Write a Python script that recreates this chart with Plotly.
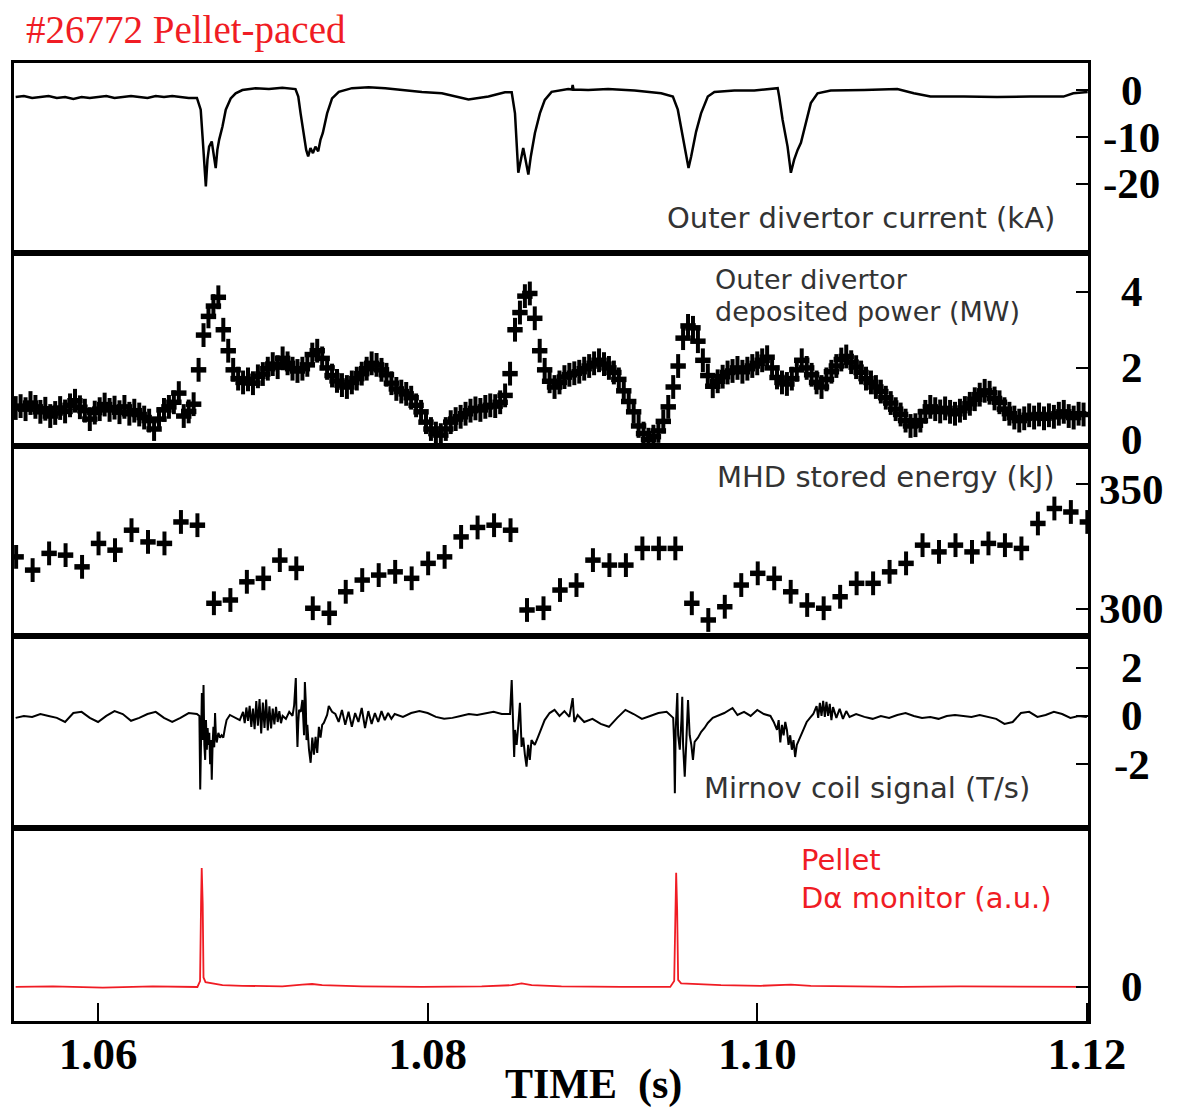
import plotly.graph_objects as go

# Shot #26772, pellet-paced ELMs: five diagnostics on a common time base (s)

# Outer divertor current (kA)
T_DIV = [
    1.0550, 1.0555, 1.0560, 1.0565, 1.0570, 1.0575, 1.0580, 1.0585, 1.0590, 1.0595,
    1.0600, 1.0605, 1.0610, 1.0615, 1.0620, 1.0625, 1.0630, 1.0635, 1.0640, 1.0645,
    1.0650, 1.0655, 1.0660,
    1.06623, 1.06634, 1.06644, 1.06654, 1.06664, 1.06674, 1.06690, 1.06705, 1.06714, 1.06724,
    1.06735, 1.06755, 1.06775, 1.06805, 1.06835, 1.06876, 1.06956, 1.07037, 1.07118, 1.07198,
    1.07215, 1.07229, 1.07249, 1.07263, 1.07275, 1.07289, 1.07304, 1.07319, 1.07336, 1.07350,
    1.07364, 1.07390, 1.07420, 1.07461, 1.07541, 1.07642, 1.07743, 1.07844, 1.07965, 1.08086,
    1.08248, 1.08369, 1.08469, 1.08510,
    1.08530, 1.08550, 1.08566, 1.08580, 1.08594, 1.08611, 1.08626, 1.08651, 1.08681, 1.08711,
    1.08752, 1.08853, 1.08875, 1.08880, 1.08885, 1.08974, 1.09095, 1.09256, 1.09417, 1.09488,
    1.09518, 1.09549, 1.09569, 1.09583, 1.09599, 1.09619, 1.09629, 1.09659, 1.09700, 1.09740,
    1.09861, 1.09982, 1.10063, 1.10124,
    1.10133, 1.10154, 1.10184, 1.10204, 1.10224, 1.10245, 1.10265, 1.10295, 1.10325, 1.10366,
    1.10446, 1.10648, 1.10850, 1.10950, 1.11051, 1.11253, 1.11455, 1.11656, 1.11858, 1.11918,
    1.11979, 1.12005,
]
DIV_KA = [
    -1.4, -1.2, -1.6, -1.4, -1.2, -1.6, -1.4, -1.8, -1.4, -1.6,
    -1.4, -1.2, -1.6, -1.4, -1.2, -1.4, -1.6, -1.2, -1.4, -1.2,
    -1.4, -1.6, -1.6,
    -4.1, -9.8, -14.8, -20.5, -14.8, -12.0, -10.9, -14.8, -16.6, -12.7,
    -10.5, -7.7, -4.1, -1.7, -0.6, 0.1, 0.5, 0.3, 0.6, 0.3,
    -1.3, -4.9, -9.1, -12.7, -14.1, -12.3, -13.4, -12.0, -13.0, -10.5,
    -9.1, -4.9, -1.7, -0.3, 0.5, 0.7, 0.5, 0.1, -0.3, -0.6,
    -1.9, -1.3, -0.4, -0.4,
    -4.9, -17.6, -14.8, -12.3, -14.8, -18.0, -14.1, -9.1, -4.9, -2.0,
    -0.3, 0.3, 0.2, 1.2, 0.2, 0.1, 0.3, 0.0, -0.6, -1.3,
    -4.1, -9.8, -14.1, -16.6, -14.1, -10.5, -8.8, -4.9, -1.3, -0.3,
    0.0, 0.0, 0.3, 0.5,
    -1.3, -6.3, -12.0, -17.6, -14.8, -12.7, -11.2, -7.0, -2.7, -0.6,
    0.0, 0.1, 0.3, -0.6, -1.3, -1.3, -1.4, -1.3, -1.3, -0.6,
    -0.3, -0.3,
]

# Outer divertor deposited power (MW), one sample every 0.3 ms
POWER_T0 = 1.0550
POWER_DT = 0.0003
POWER_MW = [
    0.95, 1.0, 0.92, 1.08, 0.98, 0.85, 0.93, 0.74, 0.82, 0.95,
    0.86, 1.02, 1.14, 0.97, 0.88, 0.66, 0.83, 0.92, 1.04, 0.9,
    0.96, 0.84, 0.98, 0.8, 0.88, 0.78, 0.7, 0.62, 0.4, 0.66,
    0.9, 0.98, 1.1, 1.34, 0.74, 0.86, 1.05, 1.95, 2.86, 3.35,
    3.62, 3.85, 3.0, 2.45, 1.95, 1.72, 1.62, 1.7, 1.6, 1.78,
    1.84, 1.98, 2.1, 2.02, 2.25, 2.12, 1.98, 1.92, 1.98, 2.08,
    2.35, 2.45, 2.25, 2.0, 1.8, 1.66, 1.55, 1.5, 1.62, 1.72,
    1.85, 1.98, 2.12, 2.08, 1.95, 1.82, 1.6, 1.45, 1.38, 1.32,
    1.22, 1.02, 0.85, 0.58, 0.4, 0.28, 0.24, 0.4, 0.58, 0.66,
    0.72, 0.8, 0.88, 0.94, 0.9, 0.98, 1.02, 1.0, 1.1, 1.28,
    1.85, 3.0, 3.45, 3.88, 3.95, 3.3, 2.45, 1.95, 1.65, 1.5,
    1.62, 1.76, 1.82, 1.86, 1.9, 1.98, 2.05, 2.12, 2.2, 2.1,
    2.0, 1.88, 1.7, 1.4, 1.12, 0.85, 0.48, 0.28, 0.12, 0.2,
    0.35, 0.6, 0.98, 1.5, 2.05, 2.78, 3.1, 3.05, 2.7, 2.2,
    1.8, 1.52, 1.65, 1.77, 1.88, 1.92, 2.0, 1.9, 1.98, 2.05,
    2.12, 2.2, 2.28, 2.0, 1.75, 1.62, 1.58, 1.72, 1.95, 2.2,
    2.0, 1.82, 1.62, 1.5, 1.7, 1.9, 2.05, 2.22, 2.3, 2.15,
    2.02, 1.88, 1.72, 1.62, 1.5, 1.38, 1.22, 1.08, 0.92, 0.78,
    0.62, 0.48, 0.5, 0.62, 0.85, 0.98, 0.92, 0.86, 0.94, 0.85,
    0.8, 0.88, 0.95, 1.06, 1.18, 1.3, 1.4, 1.35, 1.2, 1.1,
    0.92, 0.8, 0.7, 0.62, 0.68, 0.76, 0.7, 0.78, 0.68, 0.76,
    0.72, 0.8, 0.85, 0.74, 0.7, 0.8, 0.78,
]

# MHD stored energy (kJ), one sample every 1 ms
WMHD_T0 = 1.05503
WMHD_DT = 0.001
WMHD_KJ = [
    320.9, 315.6, 322.3, 321.6, 316.9, 326.3, 323.6, 331.6, 326.9, 326.3,
    334.9, 333.6, 302.3, 303.6, 310.9, 312.3, 319.6, 316.3, 300.3, 298.3,
    306.9, 311.6, 313.6, 314.9, 312.3, 318.3, 320.9, 328.9, 332.7, 333.6,
    331.6, 299.6, 300.3, 307.6, 309.6, 319.6, 317.6, 317.6, 324.3, 324.3,
    324.3, 302.3, 295.6, 300.9, 309.6, 314.3, 312.3, 306.9, 301.6, 300.3,
    304.9, 310.3, 310.3, 314.9, 318.3, 325.6, 322.9, 325.6, 322.9, 326.3,
    325.6, 324.3, 334.3, 340.3, 338.9, 334.9,
]

# Mirnov coil signal (T/s)
T_MIRNOV = [
    1.0550, 1.0555, 1.0560, 1.0565, 1.0570, 1.0575, 1.0580, 1.0585, 1.0590, 1.0595,
    1.0600, 1.0605, 1.0610, 1.0615, 1.0620, 1.0625, 1.0630, 1.0635, 1.0640, 1.0645,
    1.0650, 1.0655, 1.0660,
    1.06615, 1.06620, 1.06625, 1.06630, 1.06635, 1.06640, 1.06645, 1.06650, 1.06655, 1.06660,
    1.06665, 1.06670, 1.06675, 1.06680, 1.06685, 1.06690, 1.06695, 1.06700, 1.06705, 1.06710,
    1.06715, 1.06720, 1.06730, 1.06740, 1.06750, 1.06760, 1.06770, 1.06780, 1.06800, 1.06820,
    1.06840, 1.06860,
    1.06880, 1.06890, 1.06900, 1.06910, 1.06920, 1.06930, 1.06940, 1.06950, 1.06960, 1.06970,
    1.06980, 1.06990, 1.07000, 1.07010, 1.07020, 1.07030, 1.07040, 1.07050, 1.07060, 1.07070,
    1.07080, 1.07090, 1.07100, 1.07110, 1.07120, 1.07140, 1.07160, 1.07180,
    1.07190, 1.07200, 1.07205, 1.07210, 1.07215, 1.07220, 1.07230, 1.07240, 1.07250, 1.07255,
    1.07260, 1.07265, 1.07270, 1.07280, 1.07290, 1.07300, 1.07310, 1.07320, 1.07330, 1.07340,
    1.07350, 1.07360, 1.07370, 1.07390, 1.07400, 1.07420, 1.07440,
    1.07460, 1.07480, 1.07500, 1.07520, 1.07540, 1.07560, 1.07580, 1.07600, 1.07620, 1.07640,
    1.07660, 1.07680, 1.07700, 1.07720, 1.07740, 1.07760, 1.07780, 1.07800,
    1.07850, 1.07900, 1.07950, 1.08000, 1.08050, 1.08100, 1.08150, 1.08200, 1.08250, 1.08300,
    1.08350, 1.08400, 1.08450, 1.08500,
    1.08510, 1.08515, 1.08520, 1.08525, 1.08530, 1.08540, 1.08550, 1.08560, 1.08570, 1.08580,
    1.08590, 1.08600, 1.08610, 1.08620, 1.08630, 1.08650, 1.08670, 1.08690, 1.08710, 1.08740,
    1.08770, 1.08800, 1.08830, 1.08860, 1.08880, 1.08890, 1.08910, 1.08950, 1.09000, 1.09050,
    1.09100, 1.09150, 1.09200, 1.09250, 1.09300, 1.09350, 1.09400, 1.09450, 1.09480,
    1.09490, 1.09495, 1.09500, 1.09505, 1.09510, 1.09515, 1.09520, 1.09530, 1.09540, 1.09545,
    1.09550, 1.09560, 1.09570, 1.09580, 1.09590, 1.09600, 1.09610, 1.09620, 1.09640, 1.09660,
    1.09680, 1.09700, 1.09730, 1.09760, 1.09800, 1.09850, 1.09880, 1.09920, 1.09960, 1.10000,
    1.10040, 1.10080,
    1.10100, 1.10120, 1.10130, 1.10140, 1.10150, 1.10160, 1.10170, 1.10180, 1.10190, 1.10200,
    1.10210, 1.10220, 1.10230, 1.10240, 1.10260, 1.10280, 1.10300, 1.10320, 1.10340,
    1.10360, 1.10370, 1.10380, 1.10390, 1.10400, 1.10410, 1.10420, 1.10430, 1.10440, 1.10450,
    1.10460, 1.10480, 1.10500, 1.10520, 1.10540, 1.10560,
    1.10600, 1.10650, 1.10700, 1.10750, 1.10800, 1.10850, 1.10900, 1.10950, 1.11000, 1.11050,
    1.11100, 1.11150, 1.11200, 1.11250, 1.11300, 1.11350, 1.11400, 1.11450, 1.11500, 1.11550,
    1.11600, 1.11650, 1.11700, 1.11750, 1.11800, 1.11850, 1.11900, 1.11950, 1.12000,
]
MIRNOV_TS = [
    -0.08, 0.0, -0.04, 0.08, 0.0, -0.08, -0.25, 0.12, 0.17, -0.08,
    -0.25, 0.0, 0.2, 0.08, -0.2, -0.08, 0.08, 0.17, -0.08, -0.25,
    -0.08, 0.12, 0.08,
    0.0, -3.05, -0.4, 0.95, -1.0, 1.28, -1.2, -1.82, -0.17, -1.4,
    -0.5, -1.2, -0.7, -2.0, -1.0, -2.64, -1.2, -0.45, -1.3, 0.12,
    -0.8, -1.1, -0.7, -0.9, -0.8, -0.9, -0.5, -0.17, 0.04, -0.04,
    -0.12, -0.17,
    0.17, -0.3, 0.35, -0.2, 0.42, -0.45, 0.3, -0.55, 0.62, -0.4,
    0.7, -0.72, 0.55, -0.5, 0.68, -0.6, 0.4, -0.52, 0.3, -0.35,
    0.38, -0.25, 0.2, -0.3, 0.0, -0.12, 0.17, 0.0,
    0.45, 1.57, -0.17, -1.28, -0.25, 0.25, 0.17, 0.66, -0.8, 1.4,
    0.66, -1.0, -0.37, -1.4, -1.94, -0.9, -1.6, -0.87, -1.53, -0.45,
    -0.9, -0.37, -0.29, 0.04, 0.41, 0.17, 0.08,
    -0.25, 0.25, -0.37, 0.17, -0.45, 0.12, -0.25, 0.33, -0.5, 0.2,
    -0.33, 0.12, -0.25, 0.2, -0.17, 0.12, -0.12, 0.08,
    -0.04, 0.12, 0.2, 0.12, -0.04, -0.12, -0.08, 0.0, 0.08, 0.04,
    0.12, 0.17, 0.08, 0.08,
    1.49, 0.66, -0.8, -1.7, -0.58, -1.2, -0.37, 0.54, -1.28, -0.9,
    -1.6, -2.1, -1.2, -1.82, -1.0, -1.2, -0.87, -0.5, -0.17, 0.12,
    0.25, 0.0, 0.2, -0.04, 0.74, -0.25, 0.04, -0.25, -0.12, -0.33,
    -0.45, -0.08, 0.25, 0.08, -0.12, 0.0, 0.12, 0.17, 0.0,
    -0.08, -1.0, -3.2, -0.58, 0.66, 0.95, -0.8, -1.4, -0.17, 0.79,
    -1.2, -2.52, -1.0, 0.66, -0.8, -1.2, -1.82, -1.07, -0.9, -0.66,
    -0.5, -0.29, -0.08, 0.0, 0.12, 0.33, 0.04, 0.17, 0.0, 0.25,
    0.08, 0.0,
    -0.25, -0.58, -0.17, -1.1, -0.37, -0.8, -0.25, -0.58, -1.2, -0.8,
    -1.4, -1.0, -1.7, -1.2, -0.87, -0.58, -0.25, -0.08, 0.08,
    0.41, -0.08, 0.54, 0.0, 0.62, -0.04, 0.58, 0.0, 0.5, -0.17,
    0.37, -0.08, 0.29, -0.12, 0.2, -0.04,
    0.08, -0.04, -0.12, 0.0, -0.08, 0.04, 0.12, 0.0, -0.08, -0.04,
    -0.12, 0.0, 0.04, 0.0, -0.04, 0.04, -0.04, -0.12, -0.33, -0.25,
    0.12, 0.17, -0.04, 0.04, 0.17, 0.08, -0.08, 0.0, -0.04,
]

# Pellet D-alpha monitor (a.u.)
T_DALPHA = [
    1.0550, 1.05726, 1.06029, 1.06331, 1.06603, 1.06619, 1.06625, 1.06629, 1.06635, 1.06640,
    1.06652, 1.06694, 1.06755, 1.06876, 1.07118, 1.07239, 1.07299, 1.07360, 1.07602, 1.07965,
    1.08328, 1.08510, 1.08570, 1.08631, 1.08812, 1.09175, 1.09472, 1.09496, 1.09502, 1.09508,
    1.09514, 1.09520, 1.09538, 1.09599, 1.09780, 1.10022, 1.10204, 1.10325, 1.10567, 1.10870,
    1.11233, 1.11596, 1.12005,
]
DALPHA_AU = [
    0.0, 0.005, -0.005, 0.005, 0.0, 0.05, 0.7, 1.0, 0.7, 0.08,
    0.04, 0.03, 0.015, 0.01, 0.005, 0.02, 0.025, 0.015, 0.005, 0.0,
    0.005, 0.015, 0.03, 0.015, 0.005, 0.0, 0.0, 0.05, 0.6, 0.96,
    0.65, 0.06, 0.03, 0.025, 0.015, 0.01, 0.02, 0.01, 0.005, 0.0,
    0.005, 0.0, 0.0,
]

TIME_TICKS = [1.06, 1.08, 1.10, 1.12]
TIME_TICK_TEXT = ["1.06", "1.08", "1.10", "1.12"]
PANEL_TICKS = [[0, -10, -20], [4, 2, 0], [350, 300], [2, 0, -2], [0]]

# ------------------------------------------------------------------
# Layout geometry (pixels) and styling
# ------------------------------------------------------------------
W, H = 1179, 1111
LEFT, RIGHT, TOP, BOTTOM = 11, 1088, 63, 1021
EDGES = [63, 253, 446, 636, 828, 1021]
X_RANGE = [1.05490, 1.12007]
Y_RANGES = [[-34.76, 5.88], [-0.045, 5.01], [289.17, 365.36], [-4.64, 3.31], [-0.286, 1.336]]

RED = "#f01c24"
LABEL_GREY = "#333333"
SERIF = "Liberation Serif"
SANS = "DejaVu Sans"


def px_x(p):
    return (p - LEFT) / (RIGHT - LEFT)


def px_y(p):
    return (BOTTOM - p) / (BOTTOM - TOP)


fig = go.Figure()


def ax(i, kind):
    return kind if i == 1 else f"{kind}{i}"


def plus_markers(t, v, i):
    # '+' glyphs: a tall vertical stroke crossed by a shorter, heavier bar
    common = dict(x=t, y=v, mode="markers", xaxis=ax(i, "x"), yaxis=ax(i, "y"),
                  showlegend=False, hoverinfo="skip")
    fig.add_trace(go.Scatter(**common, marker=dict(symbol="line-ns", size=17,
                                                   line=dict(width=4, color="black"))))
    fig.add_trace(go.Scatter(**common, marker=dict(symbol="line-ew", size=11,
                                                   line=dict(width=5.5, color="black"))))


t_power = [round(POWER_T0 + k * POWER_DT, 6) for k in range(len(POWER_MW))]
t_wmhd = [round(WMHD_T0 + k * WMHD_DT, 6) for k in range(len(WMHD_KJ))]

fig.add_trace(go.Scatter(x=T_DIV, y=DIV_KA, mode="lines", xaxis="x", yaxis="y",
                         line=dict(color="black", width=2.5), showlegend=False))
plus_markers(t_power, POWER_MW, 2)
plus_markers(t_wmhd, WMHD_KJ, 3)
fig.add_trace(go.Scatter(x=T_MIRNOV, y=MIRNOV_TS, mode="lines", xaxis="x4", yaxis="y4",
                         line=dict(color="black", width=2), showlegend=False))
fig.add_trace(go.Scatter(x=T_DALPHA, y=DALPHA_AU, mode="lines", xaxis="x5", yaxis="y5",
                         line=dict(color=RED, width=1.8), showlegend=False))

layout = dict(
    width=W, height=H,
    margin=dict(l=LEFT, r=W - RIGHT, t=TOP, b=H - BOTTOM, pad=0),
    paper_bgcolor="white", plot_bgcolor="white",
    showlegend=False,
)

tick_font = dict(family=SERIF, size=43, color="black", weight="bold")

# nudges that keep the stacked scale numbers at panel joins apart (pixels)
TICK_LABEL_SHIFT = {(2, 0): 5, (3, 350): -5}

annotations = []
for i in range(1, 6):
    top, bot = EDGES[i - 1], EDGES[i]
    xa = dict(
        domain=[0, 1], anchor=ax(i, "y"), range=X_RANGE,
        showline=True, mirror=True, linewidth=3, linecolor="black",
        showgrid=False, zeroline=False,
    )
    if i > 1:
        xa["matches"] = "x"
    if i == 5:
        xa.update(tickvals=TIME_TICKS, ticktext=TIME_TICK_TEXT, ticks="inside",
                  ticklen=18, tickwidth=1.6, tickcolor="black", showticklabels=True,
                  tickfont=dict(tick_font, size=45), ticklabelstandoff=-9)
    else:
        xa.update(ticks="", showticklabels=False)
    ya = dict(
        domain=[px_y(bot), px_y(top)], anchor=ax(i, "x"), side="right",
        range=Y_RANGES[i - 1], tickvals=PANEL_TICKS[i - 1], ticks="inside",
        ticklen=12, tickwidth=1.6, tickcolor="black", showticklabels=False,
        showline=True, mirror=True, linewidth=3, linecolor="black",
        showgrid=False, zeroline=False,
    )
    layout["xaxis" if i == 1 else f"xaxis{i}"] = xa
    layout["yaxis" if i == 1 else f"yaxis{i}"] = ya
    # right-hand scale numbers, centred on each tick
    for v in PANEL_TICKS[i - 1]:
        annotations.append(dict(
            x=px_x(1132), xref="paper", y=v, yref=ax(i, "y"),
            text=str(v), showarrow=False, xanchor="center", yanchor="middle",
            yshift=TICK_LABEL_SHIFT.get((i, v), 0), font=tick_font,
        ))


def label(text, x, y, anchor, color=LABEL_GREY, size=29, family=SANS):
    annotations.append(dict(
        x=px_x(x), y=px_y(y), xref="paper", yref="paper", text=text,
        showarrow=False, xanchor=anchor, yanchor="middle",
        font=dict(family=family, size=size, color=color),
    ))


label("Outer divertor current (kA)", 1057, 218, "right")
label("Outer divertor", 712, 279, "left", size=27)
label("deposited power (MW)", 712, 311, "left", size=27)
label("MHD stored energy (kJ)", 1057, 477, "right")
label("Mirnov coil signal (T/s)", 1032, 788, "right")
label("Pellet", 798, 860, "left", color=RED)
label("D\u03b1 monitor (a.u.)", 798, 898, "left", color=RED)
label("#26772 Pellet-paced", 21, 30, "left", color=RED, size=39, family=SERIF)
annotations.append(dict(
    x=px_x(592), y=px_y(1084), xref="paper", yref="paper",
    text="TIME\u00a0\u00a0(s)", showarrow=False, xanchor="center", yanchor="middle",
    font=dict(family=SERIF, size=42, color="black", weight="bold"),
))

layout["annotations"] = annotations
fig.update_layout(**layout)

fig.write_html("out.html")
